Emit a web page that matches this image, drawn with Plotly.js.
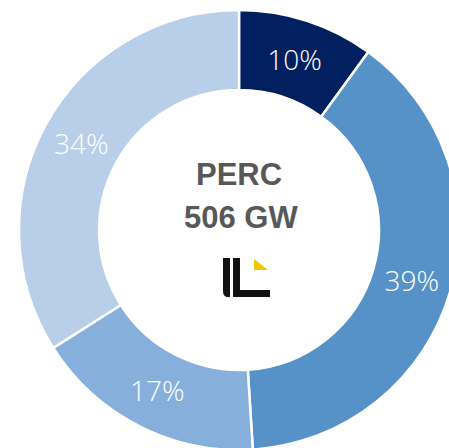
<!DOCTYPE html>
<html>
<head>
<meta charset="utf-8">
<script src="https://cdn.plot.ly/plotly-3.0.1.min.js"></script>
<style>
html,body{margin:0;padding:0;overflow:hidden;background:#fff;width:449px;height:448px;}
#chart{width:480px;height:462px;}
</style>
</head>
<body>
<div id="chart"></div>
<script>
// Data
const categories = ["A", "B", "C", "D"];
const shares = [10, 39, 17, 34];
const sliceColors = ["#022060", "#5692c8", "#86afdc", "#b8cee9"];
const centerTitle = ["PERC", "506 GW"];

const W = 480, H = 462;
const cx = 239, cy = 230, R = 220;
const px = x => x / W;
const py = y => 1 - y / H;

const trace = {
  type: "pie",
  labels: categories,
  values: shares,
  sort: false,
  direction: "clockwise",
  rotation: 0,
  hole: 0.636,
  marker: {colors: sliceColors, line: {color: "#ffffff", width: 2.5}},
  textinfo: "percent",
  texttemplate: "%{value}%",
  textposition: "inside",
  insidetextorientation: "horizontal",
  textfont: {family: "Open Sans", size: 28, color: "#ffffff", weight: 300},
  hoverinfo: "none",
  showlegend: false,
  domain: {x: [px(cx - R), px(cx + R)], y: [py(cy + R), py(cy - R)]}
};

const shapes = [
  {type: "path", xref: "paper", yref: "paper",
   path: `M ${px(223)} ${py(258)} L ${px(230)} ${py(258)} L ${px(230)} ${py(297)} L ${px(228)} ${py(297)} Q ${px(223)} ${py(297)} ${px(223)} ${py(291)} Z`,
   fillcolor: "#111111", line: {width: 0}},
  {type: "path", xref: "paper", yref: "paper",
   path: `M ${px(233)} ${py(258)} L ${px(240)} ${py(258)} L ${px(240)} ${py(290)} L ${px(270)} ${py(290)} L ${px(270)} ${py(297)} L ${px(233)} ${py(297)} Z`,
   fillcolor: "#111111", line: {width: 0}},
  {type: "path", xref: "paper", yref: "paper",
   path: `M ${px(254)} ${py(259)} L ${px(254)} ${py(270)} L ${px(268)} ${py(270)} Z`,
   fillcolor: "#f5c400", line: {width: 0}}
];

const annotations = [
  {text: centerTitle[0], xref: "paper", yref: "paper", x: px(239), y: py(174),
   showarrow: false, xanchor: "center", yanchor: "middle",
   font: {family: "Liberation Sans", size: 31, color: "#585858", weight: 700}},
  {text: centerTitle[1], xref: "paper", yref: "paper", x: px(241), y: py(217),
   showarrow: false, xanchor: "center", yanchor: "middle",
   font: {family: "Liberation Sans", size: 31, color: "#585858", weight: 700}}
];

const layout = {
  width: W, height: H,
  margin: {l: 0, r: 0, t: 0, b: 0, pad: 0},
  paper_bgcolor: "#ffffff",
  plot_bgcolor: "#ffffff",
  shapes: shapes,
  annotations: annotations,
  showlegend: false
};

Plotly.newPlot("chart", [trace], layout, {staticPlot: true, displayModeBar: false});
</script>
</body>
</html>
